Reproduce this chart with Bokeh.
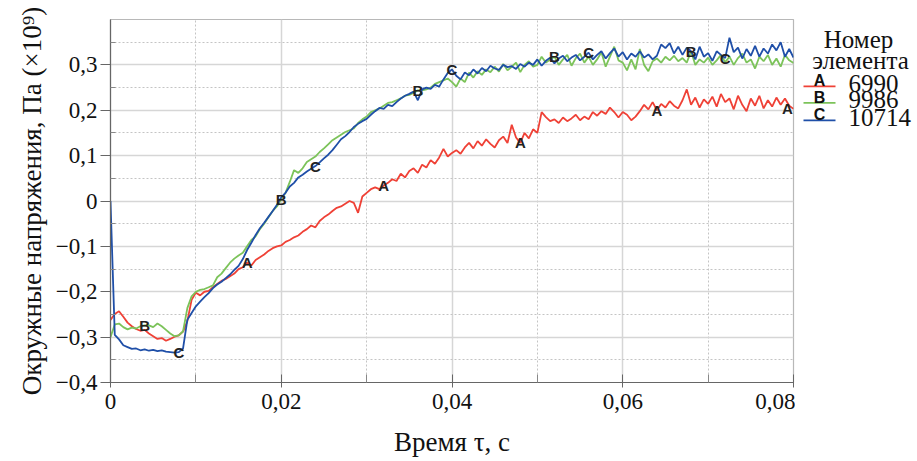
from bokeh.plotting import figure
from bokeh.layouts import row
from bokeh.models import (Range1d, FixedTicker, CustomJSTickFormatter, ColumnDataSource,
                          LabelSet)
from bokeh.core.properties import value
from bokeh.embed import file_html
from bokeh.resources import INLINE

# ---------------- data ----------------
step = 0.0005
time = [round(i * step, 4) for i in range(161)]

# element 6990 (A, red)
el_6990 = [
    -0.262, -0.249, -0.243, -0.255, -0.268, -0.276, -0.282, -0.286, -0.284, -0.292,
    -0.298, -0.304, -0.302, -0.308, -0.304, -0.299, -0.296, -0.288, -0.265, -0.218,
    -0.202, -0.208, -0.200, -0.198, -0.190, -0.183, -0.176, -0.172, -0.166, -0.160,
    -0.150, -0.146, -0.136, -0.142, -0.130, -0.124, -0.118, -0.110, -0.104, -0.100,
    -0.098, -0.090, -0.086, -0.080, -0.076, -0.068, -0.062, -0.054, -0.058, -0.044,
    -0.036, -0.030, -0.022, -0.015, -0.012, -0.006, 0.000, -0.004, -0.026, 0.010,
    0.018, 0.026, 0.030, 0.026, 0.034, 0.040, 0.048, 0.044, 0.060, 0.052,
    0.066, 0.072, 0.062, 0.080, 0.074, 0.090, 0.082, 0.096, 0.115, 0.098,
    0.106, 0.112, 0.104, 0.118, 0.128, 0.116, 0.132, 0.122, 0.136, 0.126,
    0.118, 0.134, 0.142, 0.128, 0.168, 0.140, 0.128, 0.150, 0.138, 0.158,
    0.150, 0.196, 0.185, 0.176, 0.180, 0.172, 0.184, 0.176, 0.182, 0.190,
    0.178, 0.186, 0.180, 0.196, 0.188, 0.198, 0.192, 0.206, 0.196, 0.184,
    0.196, 0.190, 0.178, 0.186, 0.198, 0.212, 0.202, 0.218, 0.200, 0.214,
    0.206, 0.220, 0.210, 0.204, 0.222, 0.246, 0.212, 0.228, 0.206, 0.224,
    0.214, 0.230, 0.208, 0.236, 0.218, 0.226, 0.202, 0.232, 0.212, 0.198,
    0.226, 0.210, 0.232, 0.204, 0.222, 0.208, 0.228, 0.212, 0.226, 0.210,
    0.203,
]

# element 9986 (B, green)
el_9986 = [
    -0.300, -0.272, -0.270, -0.278, -0.283, -0.279, -0.281, -0.276, -0.274, -0.274,
    -0.278, -0.270, -0.276, -0.284, -0.292, -0.298, -0.296, -0.287, -0.236, -0.210,
    -0.200, -0.196, -0.194, -0.190, -0.186, -0.168, -0.160, -0.148, -0.136, -0.127,
    -0.120, -0.114, -0.100, -0.086, -0.078, -0.062, -0.050, -0.036, -0.022, -0.012,
    0.004, 0.018, 0.042, 0.068, 0.062, 0.072, 0.086, 0.092, 0.098, 0.108,
    0.116, 0.125, 0.134, 0.140, 0.146, 0.152, 0.156, 0.160, 0.172, 0.180,
    0.186, 0.196, 0.200, 0.204, 0.210, 0.216, 0.218, 0.222, 0.226, 0.232,
    0.234, 0.238, 0.244, 0.244, 0.246, 0.250, 0.258, 0.262, 0.266, 0.270,
    0.262, 0.252, 0.270, 0.262, 0.283, 0.272, 0.286, 0.278, 0.290, 0.284,
    0.296, 0.285, 0.302, 0.288, 0.296, 0.305, 0.284, 0.300, 0.308, 0.296,
    0.300, 0.318, 0.305, 0.312, 0.318, 0.300, 0.312, 0.322, 0.298, 0.315,
    0.325, 0.305, 0.318, 0.300, 0.312, 0.328, 0.296, 0.318, 0.340, 0.310,
    0.305, 0.288, 0.312, 0.290, 0.335, 0.300, 0.286, 0.308, 0.314, 0.305,
    0.318, 0.310, 0.320, 0.308, 0.315, 0.305, 0.330, 0.300, 0.312, 0.305,
    0.316, 0.300, 0.310, 0.322, 0.306, 0.318, 0.300, 0.315, 0.325, 0.305,
    0.312, 0.292, 0.318, 0.308, 0.322, 0.300, 0.314, 0.296, 0.322, 0.310,
    0.304,
]

# element 10714 (C, blue)
el_10714 = [
    0.000, -0.295, -0.305, -0.318, -0.322, -0.326, -0.325, -0.329, -0.327, -0.330,
    -0.328, -0.331, -0.329, -0.332, -0.333, -0.334, -0.333, -0.325, -0.262, -0.247,
    -0.232, -0.222, -0.212, -0.203, -0.192, -0.184, -0.178, -0.170, -0.162, -0.152,
    -0.143, -0.128, -0.108, -0.092, -0.075, -0.060, -0.048, -0.035, -0.022, -0.008,
    0.008, 0.018, 0.032, 0.040, 0.052, 0.058, 0.065, 0.071, 0.077, 0.085,
    0.094, 0.102, 0.112, 0.124, 0.136, 0.143, 0.152, 0.163, 0.170, 0.176,
    0.181, 0.190, 0.198, 0.205, 0.203, 0.212, 0.209, 0.218, 0.226, 0.232,
    0.236, 0.241, 0.222, 0.246, 0.250, 0.247, 0.256, 0.252, 0.268, 0.282,
    0.290, 0.276, 0.268, 0.283, 0.277, 0.290, 0.281, 0.293, 0.286, 0.298,
    0.292, 0.289, 0.300, 0.295, 0.297, 0.291, 0.302, 0.296, 0.305, 0.300,
    0.312, 0.298, 0.309, 0.316, 0.303, 0.314, 0.320, 0.308, 0.316, 0.322,
    0.310, 0.318, 0.327, 0.312, 0.322, 0.330, 0.314, 0.326, 0.336, 0.318,
    0.328, 0.312, 0.325, 0.318, 0.330, 0.316, 0.323, 0.312, 0.320, 0.345,
    0.337, 0.348, 0.325, 0.340, 0.322, 0.338, 0.330, 0.312, 0.340, 0.318,
    0.326, 0.309, 0.330, 0.322, 0.315, 0.360, 0.328, 0.338, 0.314, 0.335,
    0.320, 0.342, 0.318, 0.336, 0.325, 0.345, 0.332, 0.350, 0.318, 0.335,
    0.316,
]

series_names = ["6990", "9986", "10714"]
series_letters = ["A", "B", "C"]
series_colors = ["#ef4136", "#7cc35a", "#1f4fa8"]
marker_start = [0.016, 0.004, 0.008]   # first letter position of each curve
marker_every = 0.016                   # spacing between letter markers

x_ticks = [0.0, 0.02, 0.04, 0.06, 0.08]
x_minor = [0.01, 0.03, 0.05, 0.07]
y_ticks = [-0.4, -0.3, -0.2, -0.1, 0.0, 0.1, 0.2, 0.3]
y_minor = [-0.35, -0.25, -0.15, -0.05, 0.05, 0.15, 0.25, 0.35]

x_label = "Время τ, с"
y_label = "Окружные напряжения, Па (×10⁹)"
legend_title = ["Номер", "элемента"]

SERIF = "Liberation Serif"
SANS = "Liberation Sans"
X_MAX = 0.08

# ---------------- main plot ----------------
p = figure(width=795, height=461, x_range=Range1d(0, X_MAX), y_range=Range1d(-0.4, 0.4),
           toolbar_location=None, output_backend="svg",
           min_border_left=110, min_border_right=2, min_border_top=19, min_border_bottom=79)
p.background_fill_color = "white"
p.border_fill_color = "white"
p.outline_line_color = "#b8b8b8"
p.outline_line_width = 1.2

series_values = [el_6990, el_9986, el_10714]
for vals, col in zip(series_values, series_colors):
    p.line(time, vals, line_color=col, line_width=1.8)

# letter markers on the curves
for vals, letter, start in zip(series_values, series_letters, marker_start):
    mx, my, off = [], [], []
    k = 0
    while True:
        tt = start + k * marker_every
        if tt > X_MAX + 1e-9:
            break
        idx = int(round(tt / step))
        mx.append(time[idx])
        my.append(vals[idx])
        # keep a letter sitting on the right frame edge fully inside the frame
        off.append(-6 if time[idx] >= X_MAX - 1e-9 else 0)
        k += 1
    src = ColumnDataSource(dict(x=mx, y=my, t=[letter] * len(mx), dx=off))
    p.add_layout(LabelSet(x="x", y="y", text="t", source=src, x_offset="dx",
                          text_font=value(SANS),
                          text_font_style="bold", text_font_size="15px", text_color="#222222",
                          text_align="center", text_baseline="middle"))

p.xaxis.ticker = FixedTicker(ticks=x_ticks, minor_ticks=x_minor)
p.yaxis.ticker = FixedTicker(ticks=y_ticks, minor_ticks=y_minor)
p.xaxis.formatter = CustomJSTickFormatter(code="""
    if (Math.abs(tick) < 1e-9) return "0";
    return tick.toFixed(2).replace(".", ",");
""")
p.yaxis.formatter = CustomJSTickFormatter(code="""
    if (Math.abs(tick) < 1e-9) return "0";
    const s = Math.abs(tick).toFixed(1).replace(".", ",");
    return tick < 0 ? "\u2212" + s : s;
""")

p.axis.axis_line_color = "#666666"
p.axis.axis_line_width = 1.2
p.axis.major_tick_line_color = "#666666"
p.axis.minor_tick_line_color = "#888888"
p.axis.major_label_text_font = SERIF
p.axis.major_label_text_font_size = "23px"
p.axis.major_label_text_color = "#111111"
p.axis.axis_label_text_font = SERIF
p.axis.axis_label_text_font_size = "27px"
p.axis.axis_label_text_font_style = "normal"
p.axis.axis_label_text_color = "#111111"

p.xaxis.axis_label = x_label
p.yaxis.axis_label = y_label
p.xaxis.major_tick_in = 8
p.xaxis.major_tick_out = 5
p.xaxis.minor_tick_in = 8
p.xaxis.minor_tick_out = 0
p.xaxis.major_label_standoff = 6
p.xaxis.axis_label_standoff = 15
p.yaxis.major_tick_in = 0
p.yaxis.major_tick_out = 10
p.yaxis.minor_tick_in = 5
p.yaxis.minor_tick_out = 0
p.yaxis.major_label_standoff = 3
p.yaxis.axis_label_standoff = 6

p.xgrid.grid_line_color = "#d6d6d6"
p.xgrid.grid_line_width = 1.5
p.ygrid.grid_line_color = "#d6d6d6"
p.ygrid.grid_line_width = 1.5
p.xgrid.minor_grid_line_color = "#c4c4c4"
p.xgrid.minor_grid_line_dash = "2 2"
p.ygrid.minor_grid_line_color = "#c4c4c4"
p.ygrid.minor_grid_line_dash = "2 2"

# ---------------- legend panel ----------------
LW = 120
lg = figure(width=LW, height=461, x_range=Range1d(0, LW), y_range=Range1d(461, 0),
            toolbar_location=None, output_backend="svg",
            x_axis_location=None, y_axis_location=None, min_border=0)
lg.grid.visible = False
lg.outline_line_color = None
lg.background_fill_color = "white"
lg.border_fill_color = "white"

lg.text(x=[63, 65], y=[25, 52], text=legend_title, text_font=value(SERIF),
        text_font_size="25px", text_align="center", text_baseline="middle",
        text_color="#111111")

entry_y = [85, 106, 128]
lg.segment(x0=[8] * 3, y0=entry_y, x1=[40] * 3, y1=entry_y, line_color=series_colors,
           line_width=1.8)
lg.text(x=[24] * 3, y=[yy - 7 for yy in entry_y], text=series_letters, text_font=value(SANS),
        text_font_style="bold", text_font_size="16px", text_align="center",
        text_baseline="middle", text_color="#111111")
lg.text(x=[53] * 3, y=[yy - 4 for yy in entry_y], text=series_names, text_font=value(SERIF),
        text_font_size="25px", text_align="left", text_baseline="middle",
        text_color="#111111")

layout = row(p, lg)
open("out.html", "w").write(file_html(layout, INLINE))
